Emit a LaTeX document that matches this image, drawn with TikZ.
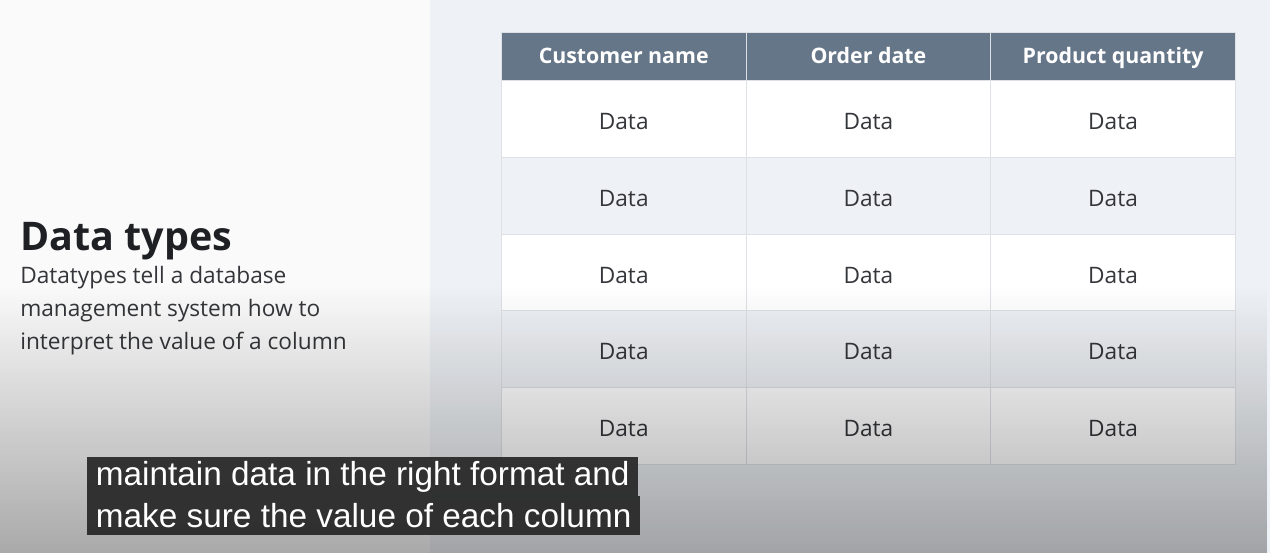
\documentclass[tikz,border=0pt]{standalone}
\usepackage{fontspec}
\setmainfont{Open Sans}
\newfontfamily\capfont{Liberation Sans}
\usetikzlibrary{positioning, fadings}
\definecolor{PanelLeft}{RGB}{250, 250, 250}
\definecolor{PanelRight}{RGB}{238, 241, 245}
\definecolor{HeadSlate}{RGB}{102, 118, 137}
\definecolor{GridLine}{RGB}{221, 225, 230}
\definecolor{CellInk}{RGB}{52, 54, 58}
\definecolor{TitleInk}{RGB}{30, 32, 36}
\definecolor{CapGray}{RGB}{38, 38, 38}

\begin{document}
\begin{tikzpicture}[x=0.75pt, y=-0.75pt,
    cell/.style={draw=GridLine, line width=0.6pt, minimum width=183.5pt, minimum height=57.6pt,
      inner sep=0pt, anchor=north west, text=CellInk, text height=16pt, text depth=0pt,
      font=\fontsize{17}{20}\selectfont},
    head/.style={cell, fill=HeadSlate, draw=GridLine, minimum height=36pt, text=white,
      text height=12pt, text depth=1.5pt, font=\fontsize{16}{19}\bfseries\selectfont},
    caption/.style={fill=CapGray, fill opacity=0.92, text opacity=1, text=white, anchor=north west,
      inner xsep=6.5pt, inner ysep=0pt, minimum height=29pt, font=\capfont\fontsize{25}{28}\selectfont}]
    \useasboundingbox (0,0) rectangle (1270,553);
    % two panels
    \fill[PanelLeft] (0,0) rectangle (430,553);
    \fill[PanelRight] (430,0) rectangle (1270,553);

    % left text
    \node[anchor=base west, inner sep=0pt, text=TitleInk, font=\fontsize{29.6}{34}\bfseries\selectfont] (title) at (20,250) {Data types};
    \node[anchor=north west, inner sep=0pt, align=left, text=CellInk, font=\fontsize{17}{24.9}\selectfont] (desc) at (20,266)
      {Datatypes tell a database\\management system how to\\interpret the value of a column};

    % table
    \foreach \name [count=\c from 0] in {Customer name, Order date, Product quantity}
      \node[head] (h\c) at ({501+244.67*\c},32) {\name};
    \foreach \r/\tint in {1/white, 2/PanelRight, 3/white, 4/PanelRight, 5/white}
      \foreach \c in {0,1,2}
        \node[cell, fill=\tint] (d\r\c) at ({501+244.67*\c},{80+76.8*(\r-1)}) {Data};

    % video shadow at the bottom
    \fill[black, opacity=0.32, path fading=north] (0,285) rectangle (1270,553);

    % subtitles
    \node[caption] (cap1) at (87,457) {maintain data in the right format and};
    \node[caption, anchor=north west] (cap2) at (cap1.south west) {make sure the value of each column};
\end{tikzpicture}
\end{document}
